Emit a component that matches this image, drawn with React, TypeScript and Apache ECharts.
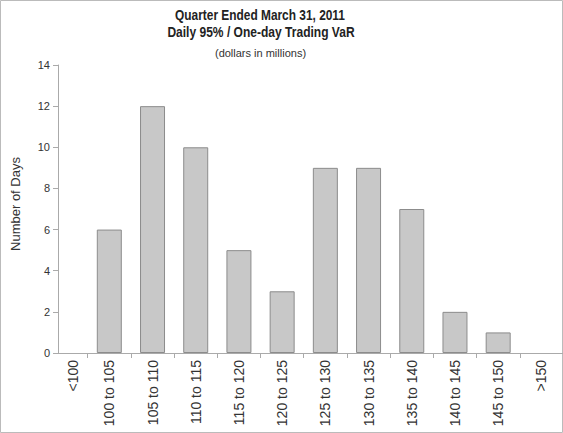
import React, { useEffect, useRef } from "react";
import * as echarts from "echarts";

const categories = [
  "<100",
  "100 to 105",
  "105 to 110",
  "110 to 115",
  "115 to 120",
  "120 to 125",
  "125 to 130",
  "130 to 135",
  "135 to 140",
  "140 to 145",
  "145 to 150",
  ">150",
];
const days = [0, 6, 12, 10, 5, 3, 9, 9, 7, 2, 1, 0];
const yMin = 0;
const yMax = 14;
const yStep = 2;
const titleLines = ["Quarter Ended March 31, 2011", "Daily 95% / One-day Trading VaR"];
const subtitle = "(dollars in millions)";
const yName = "Number of Days";

// visible start of the category axis (first category is partly hidden behind the y axis)
const xStart = 0.3125;

export default function App() {
  const ref = useRef<HTMLDivElement>(null);
  useEffect(() => {
    document.body.style.margin = "0";
    const chart = echarts.init(ref.current!, null, { renderer: "svg" });
    const font = "'Liberation Sans', Arial, sans-serif";
    const labelValues = categories.map((_, i) => (i === 0 ? (xStart + 1) / 2 : i + 0.5));
    const tickValues = categories.map((_, i) => i + 1);
    const barData = days
      .map((v, i) => [i + 0.5, v])
      .filter((d) => d[1] > 0);
    const titleStyle = {
      fontFamily: font,
      fontWeight: "bold",
      fontSize: 14,
      fill: "#222",
      align: "center",
      verticalAlign: "middle",
    };
    chart.setOption({
      animation: false,
      backgroundColor: "#ffffff",
      textStyle: { fontFamily: font },
      graphic: [
        {
          type: "rect",
          shape: { x: 0.5, y: 0.5, width: 562, height: 432 },
          style: { fill: "none", stroke: "#bbbbbb", lineWidth: 1 },
          silent: true,
        },
        {
          type: "text",
          x: 260,
          y: 15,
          scaleX: 0.85,
          style: { ...titleStyle, text: titleLines[0] },
        },
        {
          type: "text",
          x: 261,
          y: 32.5,
          scaleX: 0.86,
          style: { ...titleStyle, text: titleLines[1] },
        },
        {
          type: "text",
          x: 260.5,
          y: 53,
          style: {
            text: subtitle,
            fontFamily: font,
            fontSize: 11,
            fill: "#333",
            align: "center",
            verticalAlign: "middle",
          },
        },
      ],
      grid: { left: 58, right: 0, top: 65, bottom: 80, outerBoundsMode: "none", containLabel: false },
      xAxis: {
        type: "value",
        min: xStart,
        max: categories.length,
        splitLine: { show: false },
        axisLine: { show: true, lineStyle: { color: "#aaaaaa" } },
        axisTick: {
          show: true,
          customValues: tickValues,
          length: 5,
          lineStyle: { color: "#aaaaaa" },
        },
        axisLabel: {
          customValues: labelValues,
          rotate: 90,
          margin: 7,
          fontSize: 14,
          color: "#333",
          formatter: (v: number) => categories[Math.floor(v)] ?? "",
        },
      },
      yAxis: {
        type: "value",
        min: yMin,
        max: yMax,
        interval: yStep,
        name: yName,
        nameLocation: "middle",
        nameGap: 36,
        nameTextStyle: { fontSize: 13, color: "#333", padding: [0, 0, 0, 10] },
        splitLine: { show: false },
        axisLine: { show: true, lineStyle: { color: "#aaaaaa" } },
        axisTick: { show: true, length: 5, lineStyle: { color: "#aaaaaa" } },
        axisLabel: { fontSize: 11, color: "#333", margin: 8 },
      },
      series: [
        {
          type: "bar",
          data: barData,
          barWidth: 25,
          itemStyle: { color: "#c8c8c8", borderColor: "#8c8c8c", borderWidth: 1 },
        },
      ],
    });
    return () => chart.dispose();
  }, []);
  return <div ref={ref} style={{ width: 563, height: 433 }} />;
}
